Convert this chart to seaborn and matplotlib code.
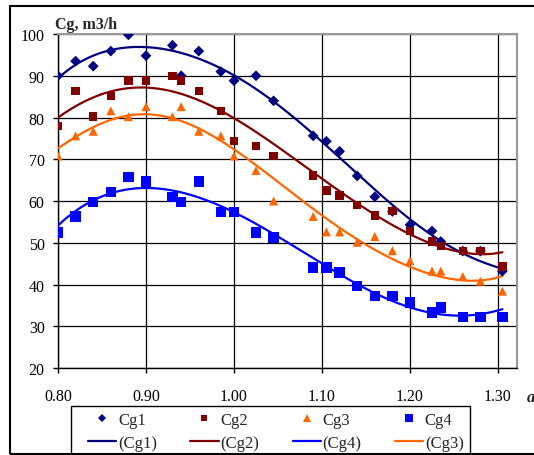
import numpy as np
import pandas as pd
import matplotlib
matplotlib.use("Agg")
import matplotlib.pyplot as plt
from matplotlib.patches import Rectangle
from matplotlib.lines import Line2D
import seaborn as sns

# ---- data: measured points ----
a_vals = [0.80, 0.82, 0.84, 0.86, 0.88, 0.90, 0.93, 0.94, 0.96, 0.985, 1.00, 1.025,
          1.045, 1.09, 1.105, 1.12, 1.14, 1.16, 1.18, 1.20, 1.225, 1.235, 1.26, 1.28, 1.305]
cg1 = [90.0, 93.5, 92.3, 95.9, 99.8, 94.8, 97.3, 90.0, 95.9, 91.0, 88.8, 90.0,
       84.0, 75.6, 74.3, 71.9, 66.0, 61.0, 57.5, 54.3, 52.8, 50.3, 48.0, 48.0, 43.2]
cg2 = [78.0, 86.4, 80.2, 85.1, 88.9, 88.9, 90.0, 88.9, 86.4, 81.6, 74.3, 73.2,
       70.8, 66.1, 62.5, 61.3, 59.0, 56.5, 57.6, 52.8, 50.3, 49.3, 48.1, 48.1, 44.3]
cg3 = [70.8, 75.6, 76.7, 81.6, 80.2, 82.6, 80.2, 82.6, 76.7, 75.6, 70.8, 67.3,
       60.0, 56.3, 52.6, 52.6, 50.1, 51.5, 48.1, 45.7, 43.2, 43.2, 41.9, 40.8, 38.4]
cg4 = [52.5, 56.3, 59.7, 62.1, 65.7, 64.7, 60.9, 59.7, 64.7, 57.3, 57.3, 52.5,
       51.3, 44.1, 44.1, 42.9, 39.6, 37.2, 37.2, 35.7, 33.3, 34.5, 32.2, 32.2, 32.2]

# ---- data: trend lines ----
trend_a = [0.80, 0.82, 0.84, 0.86, 0.88, 0.90, 0.92, 0.94, 0.96, 0.985, 1.00, 1.025,
           1.045, 1.09, 1.105, 1.12, 1.14, 1.16, 1.18, 1.20, 1.225, 1.235, 1.26, 1.28, 1.305]
trend_cg1 = [89.5, 92.6, 94.6, 96.0, 96.8, 97.0, 96.8, 95.7, 94.1, 91.6, 89.6, 86.5,
             83.7, 76.5, 74.0, 70.8, 66.4, 61.8, 58.7, 55.7, 52.1, 50.6, 47.4, 45.6, 43.7]
trend_cg2 = [80.0, 82.7, 84.8, 86.2, 87.0, 87.2, 86.8, 85.6, 84.2, 81.6, 79.6, 76.8,
             73.7, 66.5, 64.5, 62.5, 60.0, 56.6, 54.0, 51.9, 49.9, 48.9, 47.7, 47.3, 47.7]
trend_cg3 = [72.5, 75.6, 77.6, 79.6, 80.4, 80.6, 80.3, 79.0, 77.2, 74.9, 72.5, 68.9,
             65.0, 58.1, 55.7, 53.3, 50.9, 48.5, 46.1, 44.4, 42.5, 41.7, 40.9, 40.9, 42.1]
trend_cg4 = [54.1, 57.7, 60.1, 61.7, 62.9, 63.3, 62.9, 61.9, 60.6, 58.9, 57.3, 54.9,
             51.9, 46.1, 44.5, 42.5, 40.1, 37.8, 36.1, 34.6, 33.2, 32.8, 32.5, 32.9, 34.1]

series_names = ["Cg1", "Cg2", "Cg3", "Cg4"]
x_ticks = [0.80, 0.90, 1.00, 1.10, 1.20, 1.30]
x_tick_labels = ["0.80", "0.90", "1.00", "1.10", "1.20", "1.30"]
y_ticks = [20, 30, 40, 50, 60, 70, 80, 90, 100]

# ---- styling ----
sns.set_style("white")
plt.rcParams['font.family'] = ['Liberation Serif', 'DejaVu Serif']

W, H = 534, 456
fig = plt.figure(figsize=(W / 100, H / 100), dpi=100)
ax = fig.add_axes([58 / W, 1 - 369 / H, (517 - 58) / W, (369 - 35) / H])

colors_pts = {"Cg1": "#000080", "Cg2": "#800000", "Cg3": "#FF6600", "Cg4": "#0000FF"}
markers = {"Cg1": "D", "Cg2": "s", "Cg3": "^", "Cg4": "s"}
msizes = {"Cg1": 5.5, "Cg2": 6.0, "Cg3": 6.5, "Cg4": 7.5}
data = {"Cg1": cg1, "Cg2": cg2, "Cg3": cg3, "Cg4": cg4}
trends = {"Cg1": trend_cg1, "Cg2": trend_cg2, "Cg3": trend_cg3, "Cg4": trend_cg4}

# trend lines: smooth 6th-order polynomial through the values
xs = np.linspace(min(trend_a), max(trend_a), 200)
line_order = ["Cg1", "Cg2", "Cg4", "Cg3"]
for name in line_order:
    coef = np.polyfit(np.array(trend_a) - 1.05, np.array(trends[name]), 6)
    ys = np.polyval(coef, xs - 1.05)
    df_l = pd.DataFrame({"a": xs, "v": ys})
    sns.lineplot(data=df_l, x="a", y="v", ax=ax, color=colors_pts[name], lw=1.6,
                 zorder=3, legend=False, estimator=None, sort=False)

for name in series_names:
    df = pd.DataFrame({"a": a_vals, "v": data[name]})
    sns.scatterplot(data=df, x="a", y="v", ax=ax, marker=markers[name],
                    s=msizes[name] ** 2, color=colors_pts[name], edgecolor="none",
                    linewidth=0, zorder=4, legend=False)

ax.set_xlim(0.80, 1.3216)
ax.set_ylim(20, 100)
ax.set_xticks(x_ticks)
ax.set_xticklabels(x_tick_labels)
ax.set_yticks(y_ticks)
ax.set_xlabel("")
ax.set_ylabel("")
ax.grid(True, color="black", lw=0.9)
ax.set_axisbelow(True)
for side in ["top", "right"]:
    ax.spines[side].set_color("#9a9a9a")
    ax.spines[side].set_linewidth(1.5)
for side in ["left", "bottom"]:
    ax.spines[side].set_color("black")
    ax.spines[side].set_linewidth(1.0)
ax.tick_params(axis="x", direction="out", length=3.6, width=1, pad=10.5, labelsize=11.5,
               colors="black", bottom=True)
ax.tick_params(axis="y", direction="out", length=3.6, width=1, pad=6, labelsize=11.5,
               colors="black", left=True)

fig.text(55 / W, 1 - 25 / H, "Cg, m3/h", fontsize=11.5, fontweight="bold",
         ha="left", va="center")
fig.text(527 / W, 1 - 398 / H, "a", fontsize=12, fontweight="bold", style="italic",
         ha="left", va="center")

# outer frame
fig.patches.append(Rectangle((10 / W, 1 - 455 / H), 600 / W, 448 / H,
                             transform=fig.transFigure, fill=False,
                             edgecolor="black", lw=1.5))
# legend frame (cut by the bottom edge)
fig.patches.append(Rectangle((71 / W, 1 - 470 / H), (470 - 71) / W, (470 - 407) / H,
                             transform=fig.transFigure, fill=False,
                             edgecolor="black", lw=1.0))

# legend
h = {}
for name in series_names:
    h[name] = Line2D([], [], ls="none", marker=markers[name], color=colors_pts[name],
                     markersize=msizes[name] * 0.8, markeredgewidth=0)
    h["(" + name + ")"] = Line2D([], [], color=colors_pts[name], lw=1.6)
handles = [h["Cg1"], h["(Cg1)"], h["Cg2"], h["(Cg2)"], h["Cg3"], h["(Cg4)"], h["Cg4"], h["(Cg3)"]]
labels = ["Cg1", "(Cg1)", "Cg2", "(Cg2)", "Cg3", "(Cg4)", "Cg4", "(Cg3)"]
leg = fig.legend(handles, labels, ncol=4, loc="upper left",
                 bbox_to_anchor=(88 / W, 1 - 413 / H), fontsize=12,
                 frameon=False,
                 handlelength=1.7, handletextpad=0.1, columnspacing=2.0,
                 labelspacing=0.42, borderpad=0, borderaxespad=0)

fig.savefig("out.png", dpi=100)
